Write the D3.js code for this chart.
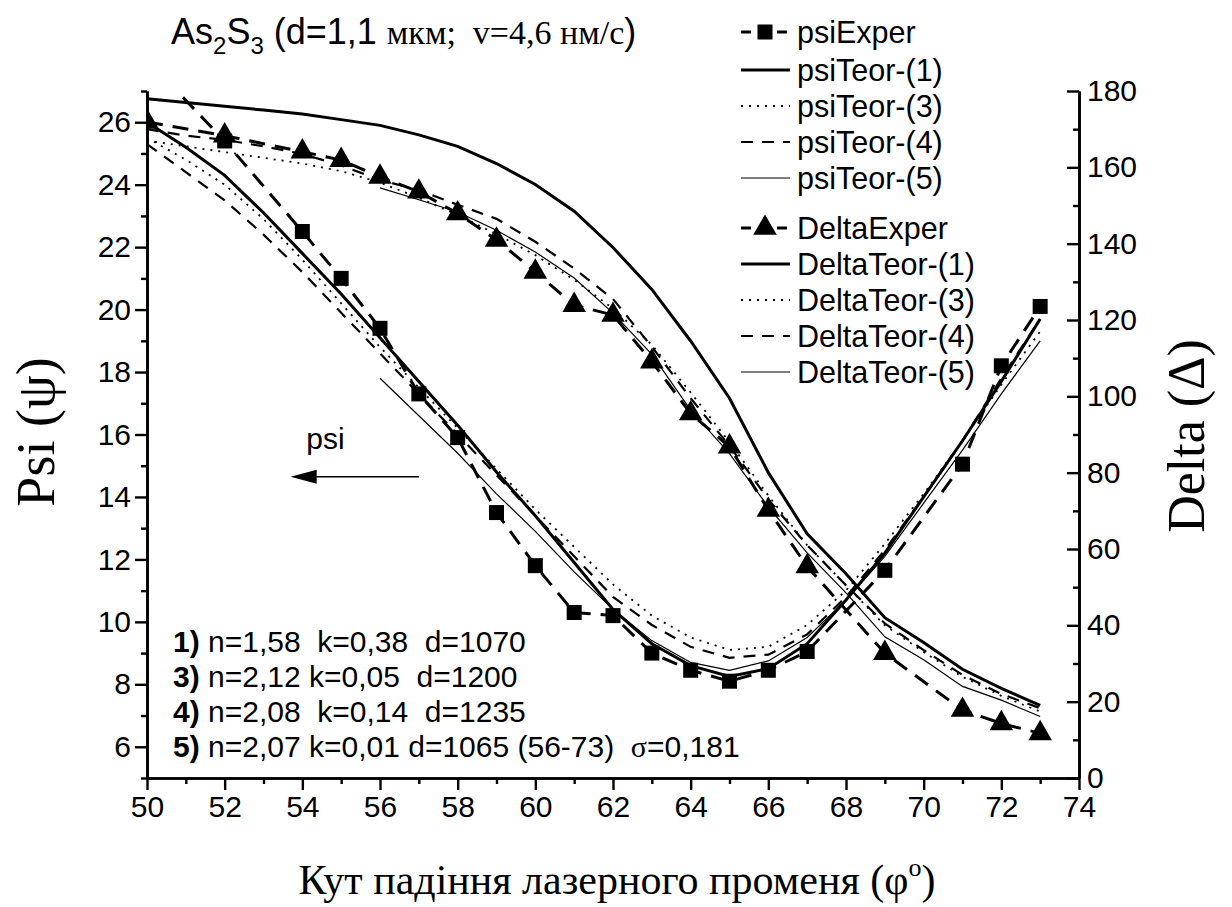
<!DOCTYPE html>
<html>
<head>
<meta charset="utf-8">
<script src="https://cdn.jsdelivr.net/npm/d3@7"></script>
<style>
body { margin: 0; background: #fff; }
svg text { font-family: Arial, "Liberation Sans", sans-serif; fill: #000; }
.serif { font-family: "Times New Roman", "Liberation Serif", serif; }
</style>
</head>
<body>
<svg id="chart" width="1232" height="907"></svg>
<script>
// experimental points (angle of incidence, degrees)
var expAngles = [50, 52, 54, 55, 56, 57, 58, 59, 60, 61, 62, 63, 64, 65, 66, 67, 69, 71, 72, 73];
var psiExper = [28.0, 25.4, 22.5, 21.0, 19.4, 17.3, 15.9, 13.5, 11.8, 10.3, 10.2, 9.0, 8.45, 8.1, 8.45, 9.05, 11.65, 15.05, 18.2, 20.1];
var deltaExper = [171.9, 168.3, 164.1, 161.9, 157.5, 153.6, 147.9, 141.0, 132.6, 123.9, 121.3, 109.1, 95.5, 86.8, 70.2, 55.4, 32.7, 17.8, 14.3, 11.7];

// theoretical curves
var teorAngles = [50, 51, 52, 53, 54, 55, 56, 57, 58, 59, 60, 61, 62, 63, 64, 65, 66, 67, 68, 69, 70, 71, 72, 73];
var psiTeor1 = [26.0, 25.2, 24.3, 23.1, 21.8, 20.5, 19.1, 17.7, 16.3, 14.8, 13.4, 11.9, 10.4, 9.3, 8.6, 8.25, 8.5, 9.3, 10.7, 12.2, 14.0, 15.8, 17.7, 19.7];
var psiTeor3 = [25.5, 24.8, 24.0, 22.9, 21.6, 20.2, 18.8, 17.5, 16.2, 14.9, 13.6, 12.4, 11.2, 10.2, 9.5, 9.1, 9.2, 9.9, 11.0, 12.5, 14.1, 15.8, 17.6, 19.3];
var psiTeor4 = [25.3, 24.4, 23.5, 22.4, 21.2, 19.9, 18.6, 17.3, 16.0, 14.7, 13.4, 12.1, 10.8, 9.9, 9.2, 8.85, 8.95, 9.6, 10.8, 12.3, 14.0, 15.8, 17.8, 19.7];
var deltaTeor1 = [178, 177, 176, 175, 174, 172.5, 171, 168.5, 165.5, 161, 155.5, 148.5, 139, 128, 114.5, 99.5, 80, 64, 53.5, 42, 35.5, 28.5, 23.5, 19];
var deltaTeor3 = [167, 165.5, 164, 162.5, 161, 159, 156, 152, 147.5, 142.5, 137, 130.5, 123, 113.5, 101, 88, 74, 61, 50.5, 40, 33, 26.5, 21.5, 17.4];
var deltaTeor4 = [170, 168.3, 167.2, 165.5, 163.5, 160.5, 156.7, 154, 150.2, 146.5, 140.5, 133.5, 125.5, 113, 99.5, 87, 73, 61, 50.5, 40.5, 33.5, 27, 22, 18.3];
// model 5 fitted on 56-73 only
var teor5Angles = [56, 57, 58, 59, 60, 61, 62, 63, 64, 65, 66, 67, 68, 69, 70, 71, 72, 73];
var psiTeor5 = [17.8, 16.6, 15.4, 14.1, 12.9, 11.6, 10.4, 9.4, 8.7, 8.45, 8.75, 9.5, 10.7, 12.1, 13.8, 15.5, 17.3, 19.0];
var deltaTeor5 = [154.6, 151.5, 148.3, 143.5, 137.8, 131, 121.8, 111, 96.4, 85, 71, 59, 48.5, 37, 31, 24, 20.4, 16.1];

var xTicks = [50, 52, 54, 56, 58, 60, 62, 64, 66, 68, 70, 72, 74];
var xMinor = [51, 53, 55, 57, 59, 61, 63, 65, 67, 69, 71, 73];
var psiTicks = [6, 8, 10, 12, 14, 16, 18, 20, 22, 24, 26];
var psiMinor = [5, 7, 9, 11, 13, 15, 17, 19, 21, 23, 25, 27];
var deltaTicks = [0, 20, 40, 60, 80, 100, 120, 140, 160, 180];
var deltaMinor = [10, 30, 50, 70, 90, 110, 130, 150, 170];

var params = [
	["1)", " n=1,58  k=0,38  d=1070"],
	["3)", " n=2,12 k=0,05  d=1200"],
	["4)", " n=2,08  k=0,14  d=1235"],
	["5)", " n=2,07 k=0,01 d=1065 (56-73)  "]
];

var plotL = 147, plotR = 1079, plotT = 91, plotB = 778;

var svg = d3.select("#chart");

var x = d3.scaleLinear().domain([50, 74]).range([plotL, plotR]);
var yPsi = d3.scaleLinear().domain([5, 27]).range([plotB, plotT]);
var yDelta = d3.scaleLinear().domain([0, 180]).range([plotB, plotT]);

svg.append("clipPath").attr("id", "plot")
	.append("rect")
		.attr("x", plotL).attr("y", plotT)
		.attr("width", plotR - plotL).attr("height", plotB - plotT);

// styles for each series
var styles = {
	exper: {w: 3, dash: "16,10"},
	t1: {w: 3, dash: null},
	t3: {w: 1.8, dash: "2,6"},
	t4: {w: 2.2, dash: "12,9"},
	t5: {w: 1.2, dash: null}
};

function zip(xs, ys) {
	return xs.map(function (a, i) { return [a, ys[i]]; });
}

var plot = svg.append("g").attr("clip-path", "url(#plot)");

function drawLine(data, yScale, st) {
	var line = d3.line()
		.x(function (d) { return x(d[0]); })
		.y(function (d) { return yScale(d[1]); });
	plot.append("path")
		.datum(data)
		.attr("d", line)
		.attr("fill", "none")
		.attr("stroke", "#000")
		.attr("stroke-width", st.w)
		.attr("stroke-dasharray", st.dash);
}

drawLine(zip(teorAngles, psiTeor1), yPsi, styles.t1);
drawLine(zip(teorAngles, psiTeor3), yPsi, styles.t3);
drawLine(zip(teorAngles, psiTeor4), yPsi, styles.t4);
drawLine(zip(teor5Angles, psiTeor5), yPsi, styles.t5);
drawLine(zip(teorAngles, deltaTeor1), yDelta, styles.t1);
drawLine(zip(teorAngles, deltaTeor3), yDelta, styles.t3);
drawLine(zip(teorAngles, deltaTeor4), yDelta, styles.t4);
drawLine(zip(teor5Angles, deltaTeor5), yDelta, styles.t5);
drawLine(zip(expAngles, psiExper), yPsi, styles.exper);
drawLine(zip(expAngles, deltaExper), yDelta, styles.exper);

var sq = d3.symbol().type(d3.symbolSquare).size(225);
var tri = d3.symbol().type(d3.symbolTriangle).size(240);

plot.selectAll(".sq").data(zip(expAngles, psiExper)).enter()
	.append("path").attr("class", "sq")
	.attr("d", sq)
	.attr("transform", function (d) { return "translate(" + x(d[0]) + "," + yPsi(d[1]) + ")"; });

plot.selectAll(".tri").data(zip(expAngles, deltaExper)).enter()
	.append("path").attr("class", "tri")
	.attr("d", tri)
	.attr("transform", function (d) { return "translate(" + x(d[0]) + "," + yDelta(d[1]) + ")"; });

// axes
function styleAxis(g) {
	g.selectAll("path.domain").attr("stroke-width", 2.6);
	g.selectAll(".tick line").attr("stroke-width", 2.4);
	g.selectAll(".tick text").attr("font-size", 30).attr("font-family", "Arial, 'Liberation Sans', sans-serif");
}

svg.append("g").attr("transform", "translate(0," + plotB + ")")
	.call(d3.axisBottom(x).tickValues(xMinor).tickSize(6).tickSizeOuter(0).tickFormat(""))
	.call(styleAxis);
svg.append("g").attr("transform", "translate(0," + plotB + ")")
	.call(d3.axisBottom(x).tickValues(xTicks).tickSize(12).tickSizeOuter(0).tickPadding(6).tickFormat(d3.format("d")))
	.call(styleAxis);

svg.append("g").attr("transform", "translate(" + plotL + ",0)")
	.call(d3.axisLeft(yPsi).tickValues(psiMinor).tickSize(6).tickSizeOuter(0).tickFormat(""))
	.call(styleAxis);
svg.append("g").attr("transform", "translate(" + plotL + ",0)")
	.call(d3.axisLeft(yPsi).tickValues(psiTicks).tickSize(12).tickSizeOuter(0).tickPadding(4).tickFormat(d3.format("d")))
	.call(styleAxis);

svg.append("g").attr("transform", "translate(" + plotR + ",0)")
	.call(d3.axisRight(yDelta).tickValues(deltaMinor).tickSizeInner(-6).tickSizeOuter(0).tickFormat(""))
	.call(styleAxis);
svg.append("g").attr("transform", "translate(" + plotR + ",0)")
	.call(d3.axisRight(yDelta).tickValues(deltaTicks).tickSizeInner(-12).tickSizeOuter(0).tickPadding(8).tickFormat(d3.format("d")))
	.call(styleAxis);

// axis titles
svg.append("text").attr("class", "serif")
	.attr("transform", "translate(54,432) rotate(-90)")
	.attr("text-anchor", "middle").attr("font-size", 54)
	.text("Psi (\u03C8)");

svg.append("text").attr("class", "serif")
	.attr("transform", "translate(1204,436) rotate(-90)")
	.attr("text-anchor", "middle").attr("font-size", 52)
	.text("Delta (\u0394)");

var xt = svg.append("text").attr("class", "serif")
	.attr("x", 617).attr("y", 894)
	.attr("text-anchor", "middle").attr("font-size", 42);
xt.append("tspan").text("Кут падіння лазерного променя (\u03C6");
xt.append("tspan").attr("font-size", 26).attr("dy", -18).text("o");
xt.append("tspan").attr("dy", 18).text(")");

// title
var tt = svg.append("text").attr("x", 171).attr("y", 44).attr("font-size", 36).style("white-space", "pre");
tt.append("tspan").text("As");
tt.append("tspan").attr("font-size", 24).attr("dy", 10).text("2");
tt.append("tspan").attr("dy", -10).text("S");
tt.append("tspan").attr("font-size", 24).attr("dy", 10).text("3");
tt.append("tspan").attr("dy", -10).text(" (d=1,1 ");
tt.append("tspan").attr("class", "serif").attr("font-size", 34).text("мкм;  v=4,6 нм/с");
tt.append("tspan").text(")");

// psi arrow
svg.append("text").attr("x", x(54.1)).attr("y", yPsi(15.55)).attr("font-size", 30).text("psi");
svg.append("line")
	.attr("x1", x(57)).attr("x2", x(54.1))
	.attr("y1", yPsi(14.65)).attr("y2", yPsi(14.65))
	.attr("stroke", "#000").attr("stroke-width", 1.5);
svg.append("path")
	.attr("d", "M" + x(53.7) + "," + yPsi(14.65) + "l26,-7l0,14z")
	.attr("fill", "#000");

// model parameters
var pg = svg.append("g");
params.forEach(function (p, i) {
	var t = pg.append("text").attr("x", 173).attr("y", 652 + i * 35).attr("font-size", 30).style("white-space", "pre");
	t.append("tspan").attr("font-weight", "bold").text(p[0]);
	t.append("tspan").text(p[1]);
	if (i === 3) {
		t.append("tspan").attr("class", "serif").text("\u03C3");
		t.append("tspan").text("=0,181");
	}
});

// legend
var legendItems = [
	{name: "psiExper", st: styles.exper, mark: "sq", y: 32},
	{name: "psiTeor-(1)", st: styles.t1, y: 70},
	{name: "psiTeor-(3)", st: styles.t3, y: 106},
	{name: "psiTeor-(4)", st: styles.t4, y: 142},
	{name: "psiTeor-(5)", st: styles.t5, y: 178},
	{name: "DeltaExper", st: styles.exper, mark: "tri", y: 228},
	{name: "DeltaTeor-(1)", st: styles.t1, y: 264},
	{name: "DeltaTeor-(3)", st: styles.t3, y: 300},
	{name: "DeltaTeor-(4)", st: styles.t4, y: 336},
	{name: "DeltaTeor-(5)", st: styles.t5, y: 372}
];

var lg = svg.append("g");
legendItems.forEach(function (d) {
	var dash = d.mark ? "10,8" : d.st.dash;
	lg.append("line")
		.attr("x1", 741).attr("x2", 790)
		.attr("y1", d.y).attr("y2", d.y)
		.attr("stroke", "#000").attr("stroke-width", d.st.w)
		.attr("stroke-dasharray", dash);
	if (d.mark) {
		lg.append("path")
			.attr("d", d.mark === "sq" ? sq : tri)
			.attr("transform", "translate(765," + d.y + ")");
	}
	lg.append("text").attr("x", 797).attr("y", d.y + 11).attr("font-size", 30.5).text(d.name);
});
</script>
</body>
</html>
